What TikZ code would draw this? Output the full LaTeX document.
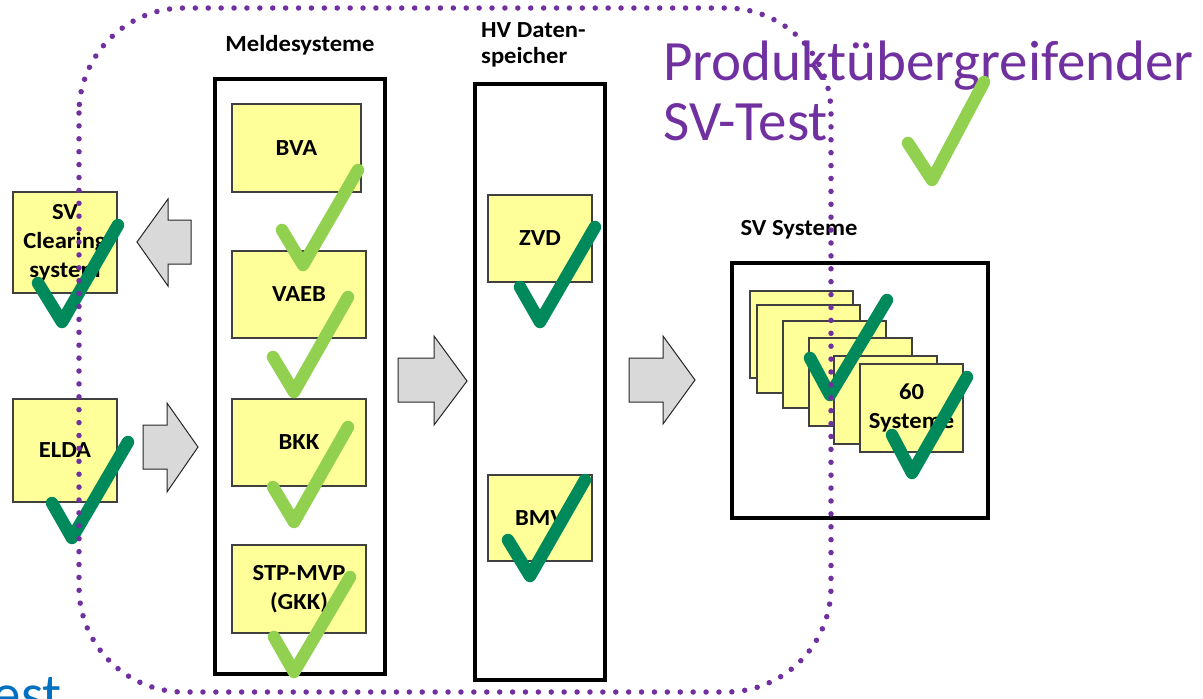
\documentclass[tikz,border=0pt]{standalone}
\usepackage{fontspec}
\setmainfont{Carlito}
\newfontfamily\lblfont[FakeStretch=1.07]{Carlito}
\newfontfamily\ttlfont{Carlito}
\newcommand\lbl{\lblfont\bfseries\fontsize{23}{29}\selectfont}
\definecolor{dotpurple}{HTML}{7030A0}
\definecolor{ylw}{HTML}{FFFF99}
\definecolor{lgreen}{HTML}{92D050}
\definecolor{dgreen}{HTML}{00895A}
\definecolor{ttlblue}{HTML}{0070C0}
\definecolor{arrowgray}{HTML}{D9D9D9}
\tikzset{
  ybox/.style={draw=black!75, line width=1.2pt, fill=ylw, font=\lbl, align=center, inner sep=0pt},
  frame/.style={draw=black, line width=3.2pt, inner sep=0pt},
  blockarrow/.style={draw=black!85, line width=1pt, fill=arrowgray, line join=miter},
  checkl/.style={draw=lgreen, line width=12.5pt, line cap=round, line join=round},
  checkd/.style={draw=dgreen, line width=12.5pt, line cap=round, line join=round},
  hdr/.style={font=\lbl, inner sep=0pt},
  dotline/.style={draw=dotpurple, line width=5.5pt, line cap=round, dash pattern=on 0pt off 12.9pt},
  ttl/.style={font=\ttlfont\fontsize{57}{60}\selectfont, inner sep=0pt}
}
\begin{document}
\begin{tikzpicture}[x=1pt,y=-1pt]
\useasboundingbox (0,0) rectangle (1203,699);

% frames
\node[frame, minimum width=170pt, minimum height=595pt] (melde) at (300,376.5) {};
\node[frame, minimum width=130pt, minimum height=596pt] (hv) at (540,382) {};
\node[frame, minimum width=256pt, minimum height=255pt] (sv) at (860,390.5) {};

% headers
\node[hdr, anchor=base] (meldelbl) at (300,51) {Meldesysteme};
\node[hdr, anchor=base west] (hvlbl1) at (481,37) {HV Daten-};
\node[hdr, anchor=base west] (hvlbl2) at (481,63) {speicher};
\node[hdr, anchor=base] (svlbl) at (799,235) {SV Systeme};

% left boxes
\node[ybox, minimum width=104pt, minimum height=101pt] (clearing) at (65,242.5) {SV\\Clearing\\system};
\node[ybox, minimum width=104pt, minimum height=103pt] (elda) at (65,450.5) {ELDA};

% Meldesysteme boxes
\node[ybox, minimum width=129pt, minimum height=88pt] (bva) at (296.5,148) {BVA};
\node[ybox, minimum width=134pt, minimum height=87pt] (vaeb) at (299,294.5) {VAEB};
\node[ybox, minimum width=134pt, minimum height=87pt] (bkk) at (299,442.5) {BKK};
\node[ybox, minimum width=134pt, minimum height=88pt] (stp) at (299,589) {STP-MVP\\(GKK)};

% HV boxes
\node[ybox, minimum width=104pt, minimum height=87pt] (zvd) at (540,238.5) {ZVD};
\node[ybox, minimum width=104pt, minimum height=86pt] (bmv) at (540,518) {BMV};

% card stack
\node[ybox, minimum width=103pt, minimum height=87pt] (c1) at (801.5,334.5) {};
\node[ybox, minimum width=103pt, minimum height=88pt] (c2) at (808.5,349) {};
\node[ybox, minimum width=103pt, minimum height=87pt] (c3) at (834.5,364.5) {};
\node[ybox, minimum width=103pt, minimum height=88pt] (c4) at (860.5,382) {};
\node[ybox, minimum width=103pt, minimum height=88pt] (c5) at (885.5,400) {};
\node[ybox, minimum width=103pt, minimum height=88pt] (c6) at (911.5,408) {60\\Systeme};

% block arrows
\draw[blockarrow] (191,220) -- (168,220) -- (168,199) -- (137,242) -- (168,286) -- (168,264) -- (191,264) -- cycle;
\draw[blockarrow] (143,425) -- (167,425) -- (167,403) -- (198,447) -- (167,492) -- (167,469) -- (143,469) -- cycle;
\draw[blockarrow] (398,358) -- (434,358) -- (434,336) -- (467,381) -- (434,425) -- (434,402) -- (398,402) -- cycle;
\draw[blockarrow] (629,358) -- (663,358) -- (663,336) -- (695,380) -- (663,424) -- (663,402) -- (629,402) -- cycle;

% titles
\node[ttl, text=dotpurple, anchor=base west] (title1) at (663,80) {Produktübergreifender};
\node[ttl, text=dotpurple, anchor=base west] (title2) at (663,140) {SV-Test};
\node[ttl, text=ttlblue, anchor=base east] (bluetest) at (62,713) {Test};

% checks light green
\draw[checkl] (282,230) -- (303,265) -- (358,170);
\draw[checkl] (273,357) -- (294,392) -- (348,297);
\draw[checkl] (273,487) -- (294,522) -- (348,427);
\draw[checkl] (274,637) -- (294,672) -- (350,577);
\draw[checkl] (908,143) -- (932,180) -- (984,82);

% checks dark green
\draw[checkd] (38,283) -- (62,322) -- (118,225);
\draw[checkd] (52,503) -- (72,538) -- (128,442);
\draw[checkd] (520,287) -- (540,322) -- (595,227);
\draw[checkd] (508,540) -- (530,576) -- (585,480);
\draw[checkd] (810,358) -- (830,395) -- (887,300);
\draw[checkd] (892,435) -- (912,473) -- (967,377);

% dotted rounded frame
\draw[dotline, rounded corners=105pt] (79,8) rectangle (831,692);
\end{tikzpicture}
\end{document}
